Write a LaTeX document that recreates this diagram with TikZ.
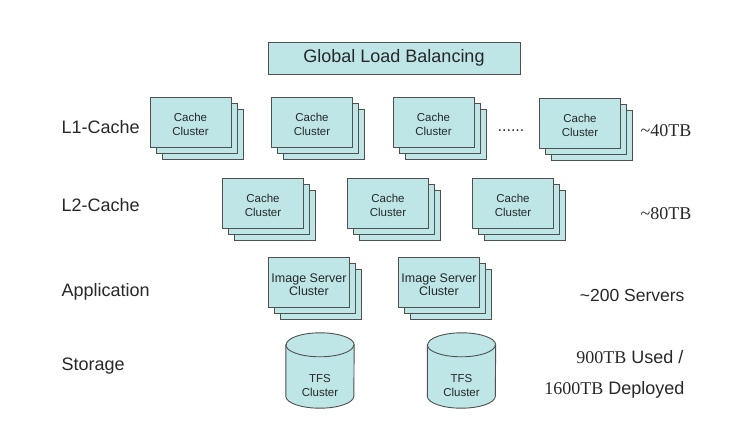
\documentclass[tikz,border=0pt]{standalone}
\usepackage{fontspec}
\setmainfont{Liberation Sans}
\newfontfamily\tbfont{Liberation Serif}
\usetikzlibrary{shadows}
\definecolor{boxfill}{RGB}{190,230,230}
\definecolor{boxline}{RGB}{80,80,80}
\definecolor{txt}{RGB}{40,40,40}
\begin{document}
\begin{tikzpicture}[x=1pt,y=-1pt,node distance=121.5pt,
  every node/.style={text=txt},
  box/.style={draw=boxline,fill=boxfill,line width=0.9pt,align=center,inner sep=0pt},
  stack/.style={box,minimum width=81pt,minimum height=50pt,text height=27pt,
    font=\fontsize{11.5}{14}\selectfont,
    copy shadow={shadow xshift=12pt,shadow yshift=-12pt,draw=boxline,fill=boxfill,line width=0.9pt},
    copy shadow={shadow xshift=6pt,shadow yshift=-6pt,draw=boxline,fill=boxfill,line width=0.9pt}},
  disk/.style={inner sep=0pt,minimum width=68pt,minimum height=75pt},
  disklabel/.style={font=\fontsize{11.5}{14}\selectfont,align=center},
  layer/.style={anchor=base west,font=\fontsize{18}{21}\selectfont},
  size/.style={anchor=base east,font=\fontsize{18}{21}\selectfont}]

  \useasboundingbox (0,0) rectangle (737,428);

  % top
  \node[box,minimum width=252pt,minimum height=32pt,
    font=\fontsize{18}{21}\selectfont] (glb) at (394,58) {Global Load Balancing};

  % L1
  \node[stack] (l1a) at (190.5,122) {Cache\\Cluster};
  \node[stack] (l1b) [right of=l1a] {Cache\\Cluster};
  \node[stack] (l1c) [right of=l1b] {Cache\\Cluster};
  \node[anchor=base,font=\fontsize{16}{18}\selectfont] (dots) at (511,131.5) {......};
  \node[stack] (l1d) at (580,123) {Cache\\Cluster};

  % L2
  \node[stack] (l2a) at (263,203) {Cache\\Cluster};
  \node[stack,node distance=125pt] (l2b) [right of=l2a] {Cache\\Cluster};
  \node[stack,node distance=125pt] (l2c) [right of=l2b] {Cache\\Cluster};

  % application
  \node[stack,font=\fontsize{12.5}{13.5}\selectfont,text height=26.5pt] (appa) at (309,282.5) {Image Server\\Cluster};
  \node[stack,font=\fontsize{12.5}{13.5}\selectfont,text height=26.5pt,node distance=130pt] (appb) [right of=appa] {Image Server\\Cluster};

  % storage
  \foreach \n/\x in {tfsa/320,tfsb/461.5}{
    \node[disk] (\n) at (\x,370.5) {};
    \draw[draw=boxline,fill=boxfill,line width=0.9pt]
      ([yshift=-12pt]\n.north west) -- ([yshift=12pt]\n.south west)
      arc[start angle=180,end angle=360,x radius=34pt,y radius=12pt]
      -- ([yshift=-12pt]\n.north east)
      arc[start angle=0,end angle=180,x radius=34pt,y radius=12pt] -- cycle;
    \draw[draw=boxline,line width=0.9pt] ([yshift=-12pt]\n.north west)
      arc[start angle=180,end angle=360,x radius=34pt,y radius=12pt];
    \node[disklabel] (\n text) at ([yshift=-15.5pt]\n.center) {TFS\\Cluster};
  }

  % left labels
  \node[layer] (ll1) at (58,133.5) {L1-Cache};
  \node[layer] (ll2) at (58,211.5) {L2-Cache};
  \node[layer] (lapp) at (58,296.5) {Application};
  \node[layer] (lsto) at (58,370.5) {Storage};

  % right labels
  \node[anchor=base west,font=\fontsize{18}{21}\tbfont] (s1) at (637,136.5) {\textasciitilde40TB};
  \node[anchor=base west,font=\fontsize{18}{21}\tbfont] (s2) at (637,219) {\textasciitilde80TB};
  \node[size,font=\fontsize{17.5}{21}\selectfont] (s3) at (688,301.5) {\textasciitilde200 Servers};
  \node[size] (s4) at (687,363.5) {{\tbfont 900TB} Used /};
  \node[size] (s5) at (688,394.5) {{\tbfont 1600TB} Deployed};
\end{tikzpicture}
\end{document}
